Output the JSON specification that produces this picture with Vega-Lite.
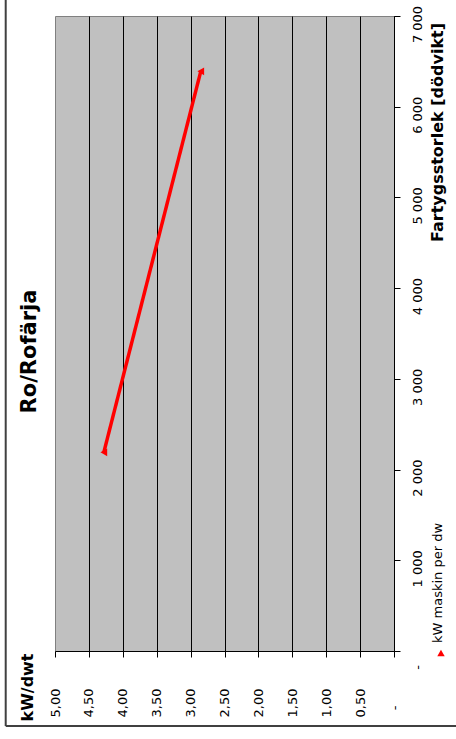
{
  "$schema": "https://vega.github.io/schema/vega-lite/v6.json",
  "width": 339,
  "height": 635,
  "autosize": {"type": "none"},
  "padding": {"left": 55, "top": 16, "right": 62, "bottom": 88},
  "background": "white",
  "title": {
    "text": "Ro/Rofärja",
    "orient": "left",
    "anchor": "middle",
    "frame": "group",
    "font": "DejaVu Sans",
    "fontSize": 21,
    "fontWeight": "bold",
    "color": "#000000",
    "offset": -35,
    "dx": -18
  },
  "config": {
    "font": "DejaVu Sans",
    "view": {"fill": "#C0C0C0", "stroke": "#808080", "strokeWidth": 1}
  },
  "layer": [
    {
      "data": {"values": [
        {"serie": "kW maskin per dw", "dwt": 2190, "kw": 4.28},
        {"serie": "kW maskin per dw", "dwt": 6390, "kw": 2.85}
      ]},
      "mark": {
        "type": "line",
        "color": "#FF0000",
        "strokeWidth": 3.5,
        "point": {"shape": "triangle-left", "size": 60, "filled": true, "color": "#FF0000", "opacity": 1}
      },
      "encoding": {
        "x": {
          "field": "kw",
          "type": "quantitative",
          "scale": {"domain": [0, 5], "reverse": true, "nice": false, "zero": false},
          "axis": {
            "orient": "bottom",
            "values": [0, 0.5, 1, 1.5, 2, 2.5, 3, 3.5, 4, 4.5, 5],
            "tickCount": 20,
            "grid": true,
            "gridColor": "#000000",
            "gridWidth": 1,
            "gridOpacity": {"condition": {"test": "datum.value === 5", "value": 0}, "value": 1},
            "domainColor": "#000000",
            "domainWidth": 1,
            "tickColor": "#000000",
            "tickSize": 6,
            "labelAngle": 270,
            "labelAlign": "right",
            "labelBaseline": "middle",
            "labelPadding": {"condition": {"test": "datum.value === 0", "value": 48}, "value": 31},
            "labelExpr": "datum.value === 0 ? '-' : replace(format(datum.value, '.2f'), '.', ',')",
            "labelFont": "DejaVu Sans",
            "labelFontSize": 13,
            "labelColor": "#000000",
            "labelFlush": false,
            "labelOverlap": false,
            "labelBound": false,
            "title": "kW/dwt",
            "titleAngle": 270,
            "titleX": -28,
            "titleY": 36,
            "titleAlign": "center",
            "titleBaseline": "middle",
            "titleFont": "DejaVu Sans",
            "titleFontSize": 16,
            "titleFontWeight": "bold",
            "titleColor": "#000000"
          }
        },
        "y": {
          "field": "dwt",
          "type": "quantitative",
          "scale": {"domain": [0, 7000], "nice": false, "zero": false},
          "axis": {
            "orient": "right",
            "values": [0, 1000, 2000, 3000, 4000, 5000, 6000, 7000],
            "tickCount": 20,
            "grid": false,
            "domainColor": "#000000",
            "domainWidth": 1,
            "tickColor": "#000000",
            "tickSize": 6,
            "labelAngle": 270,
            "labelAlign": "center",
            "labelBaseline": "top",
            "labelPadding": 11,
            "labelOffset": {"condition": {"test": "datum.value === 0", "value": 16}, "value": 8},
            "labelExpr": "datum.value === 0 ? '-' : replace(format(datum.value, ','), ',', ' ')",
            "labelFont": "DejaVu Sans",
            "labelFontSize": 13,
            "labelColor": "#000000",
            "labelFlush": false,
            "labelOverlap": false,
            "labelBound": false,
            "title": "Fartygsstorlek [dödvikt]",
            "titleAngle": 270,
            "titleX": 43,
            "titleY": 116,
            "titleAlign": "center",
            "titleBaseline": "middle",
            "titleFont": "DejaVu Sans",
            "titleFontSize": 16,
            "titleFontWeight": "bold",
            "titleColor": "#000000"
          }
        }
      }
    },
    {
      "data": {"values": [{}]},
      "mark": {"type": "point", "shape": "triangle-up", "filled": true, "color": "#FF0000", "size": 55, "opacity": 1},
      "encoding": {
        "x": {"datum": -0.693, "type": "quantitative"},
        "y": {"datum": -22, "type": "quantitative"}
      }
    },
    {
      "data": {"values": [{}]},
      "mark": {
        "type": "text",
        "text": "kW maskin per dw",
        "angle": 270,
        "align": "left",
        "baseline": "middle",
        "font": "DejaVu Sans",
        "fontSize": 13,
        "color": "#000000"
      },
      "encoding": {
        "x": {"datum": -0.649, "type": "quantitative"},
        "y": {"datum": 88, "type": "quantitative"}
      }
    },
    {
      "data": {"values": [{}]},
      "mark": {"type": "rule", "color": "#404040", "strokeWidth": 2},
      "encoding": {
        "x": {"datum": 5.727, "type": "quantitative"},
        "y": {"datum": -827, "type": "quantitative"},
        "y2": {"datum": 7177}
      }
    },
    {
      "data": {"values": [{}]},
      "mark": {"type": "rule", "color": "#404040", "strokeWidth": 2},
      "encoding": {
        "x": {"datum": 5.727, "type": "quantitative"},
        "x2": {"datum": -0.92},
        "y": {"datum": -827, "type": "quantitative"}
      }
    }
  ]
}
